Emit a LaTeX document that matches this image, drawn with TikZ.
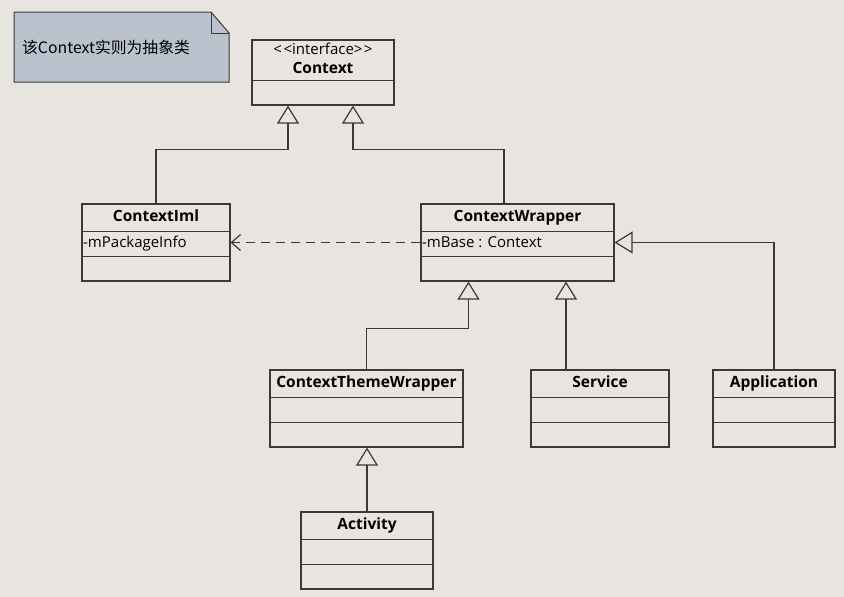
\documentclass[tikz,border=0pt]{standalone}
\usepackage{fontspec}
\setmainfont{Open Sans}
\newfontfamily\cjk{Noto Sans CJK SC}
\usetikzlibrary{arrows.meta}
\definecolor{bgc}{RGB}{232,228,223}
\definecolor{notec}{RGB}{186,194,206}
\definecolor{linec}{RGB}{58,58,58}

\begin{document}
\begin{tikzpicture}[x=1pt,y=-1pt,
   cls/.style={draw=linec,line width=1.2pt,minimum height=77pt,inner sep=0pt},
   ttl/.style={font=\bfseries\fontsize{15.5}{18}\selectfont,inner sep=0pt,text height=11pt,text depth=3pt},
   stereo/.style={font=\fontsize{15}{18}\selectfont,inner sep=0pt,text height=11pt,text depth=3pt},
   attr/.style={font=\fontsize{15}{18}\selectfont,anchor=west,inner sep=0pt,text height=11pt,text depth=3pt},
   sep/.style={draw=linec,line width=1.2pt},
   inherit/.style={draw=linec,line width=1.2pt,-{Triangle[open,length=18pt,width=22pt]}},
   uses/.style={draw=linec,line width=1.2pt,dash pattern=on 9pt off 6pt,-{Straight Barb[length=9pt,width=16pt]}}]
         \useasboundingbox[fill=bgc] (0,0) rectangle (844,597);
         % note
         \draw[draw=linec,fill=notec,line width=1pt] (14,12) -- (211,12) -- (229,33) %
         -- (229,82) -- (14,82) -- cycle;
         \draw[linec,line width=1pt] (211,12) -- (211,33) -- (229,33);
         \node[anchor=west,inner sep=0pt,font=\cjk\fontsize{15.8}{20}\selectfont] (note) at (22,47) {该Context实则为抽象类};
         % interface
         \node[cls,minimum width=142pt,minimum height=65pt] (ctx) at (323,72.5) {};
         \node[stereo] (ctxS) at (323,50) {{<}\kern1.5pt{<}interface{>}\kern1.5pt{>}};
         \node[ttl] (ctxT) at (323,69) {Context};
         \draw[sep] ([yshift=-41pt]ctx.north west) -- ([yshift=-41pt]ctx.north east);
         % classes
         \node[cls,minimum width=148pt] (ci) at (156,242.5) {};
         \node[cls,minimum width=193pt] (cw) at (517.5,242.5) {};
         \node[cls,minimum width=193pt] (ctw) at (366.5,408.5) {};
         \node[cls,minimum width=138pt] (svc) at (600,408.5) {};
         \node[cls,minimum width=122pt] (app) at (774,408.5) {};
         \node[cls,minimum width=132pt] (act) at (367,550.5) {};
         \node[ttl] (ciT) at ([yshift=-14pt]ci.north) {ContextIml};
         \node[ttl] (cwT) at ([yshift=-14pt]cw.north) {ContextWrapper};
         \node[ttl] (ctwT) at ([yshift=-14pt]ctw.north) {ContextThemeWrapper};
         \node[ttl] (svcT) at ([yshift=-14pt]svc.north) {Service};
         \node[ttl] (appT) at ([yshift=-14pt]app.north) {Application};
         \node[ttl] (actT) at ([yshift=-14pt]act.north) {Activity};
         \foreach \c in {ci,cw,ctw,svc,app,act} {
            \draw[sep] ([yshift=-28pt]\c.north west) -- ([yshift=-28pt]\c.north east);
            \draw[sep] ([yshift=-53pt]\c.north west) -- ([yshift=-53pt]\c.north east);
         }
         \node[attr] (ciA) at ([xshift=1.5pt,yshift=-40.5pt]ci.north west) {-mPackageInfo};
         \node[attr] (cwA) at ([xshift=1.5pt,yshift=-40.5pt]cw.north west) {-mBase : Context};
         % generalizations
         \draw[inherit] (ci.north) -- ++(0,-54) -| ([xshift=-35pt]ctx.south);
         \draw[inherit] ([xshift=-13.5pt]cw.north) -- ++(0,-54) -| ([xshift=30pt]ctx.south);
         \draw[inherit] (ctw.north) -- ++(0,-41) -| ([xshift=-49pt]cw.south);
         \draw[inherit] ([xshift=-34pt]svc.north) -- ([xshift=48.5pt]cw.south);
         \draw[inherit] (app.north) |- (cw.east);
         \draw[inherit] (act.north) -- (act.north |- ctw.south);
         % dependency
         \draw[uses] (cw.west) -- (ci.east);
\end{tikzpicture}
\end{document}
